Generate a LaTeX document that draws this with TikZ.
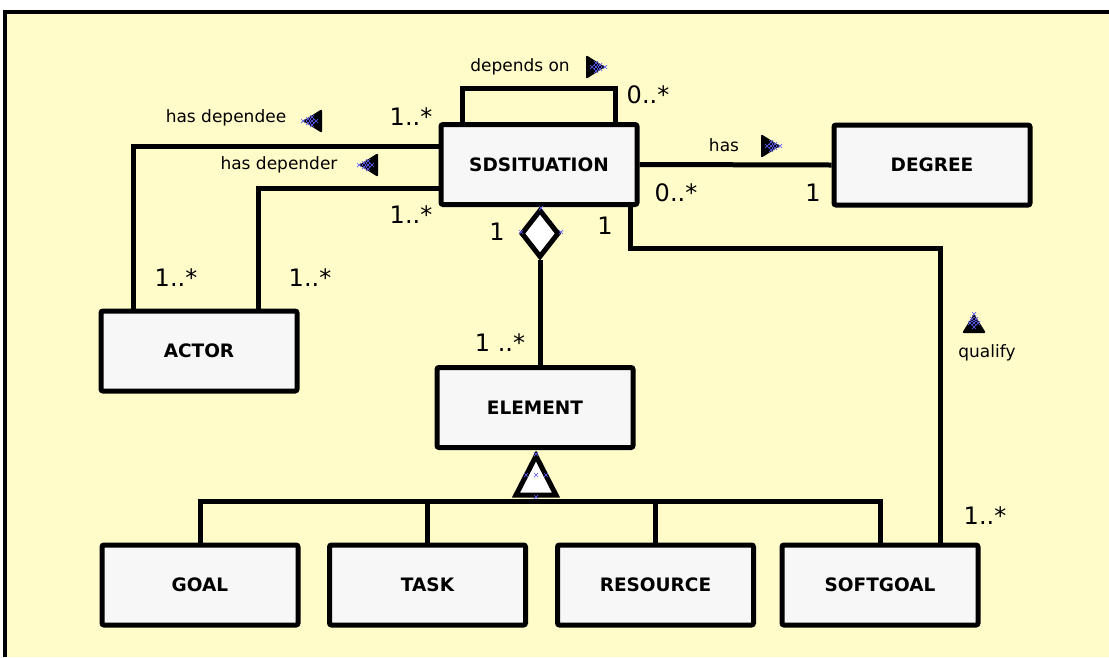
\documentclass[tikz,border=0pt]{standalone}
\usepackage{fontspec}
\setmainfont{DejaVu Sans}
\usetikzlibrary{shapes.geometric}
\definecolor{paper}{RGB}{255,252,202}
\definecolor{boxfill}{RGB}{247,247,247}
\definecolor{handle}{RGB}{95,95,250}
\tikzset{
  cls/.style={draw=black, line width=5pt, fill=boxfill, rounded corners=2pt,
    minimum width=196pt, minimum height=80pt, inner sep=0pt,
    font=\fontsize{18.5}{20}\selectfont\bfseries},
  link/.style={draw=black, line width=5pt, line join=miter},
  lbl/.style={inner sep=0pt, font=\fontsize{17}{19}\selectfont},
  mult/.style={inner sep=0pt, font=\fontsize{24}{26}\selectfont},
  xh/.pic={\draw[handle, line width=0.7pt] (-2,-2)--(2,2) (-2,2)--(2,-2);},
  flow/.pic={\fill[black, rounded corners=2pt] (-11,-12) -- (8,0) -- (-11,12) -- cycle;
    \foreach \p in {(-5,0),(-1,-4),(-1,0),(-1,4),(3,-2),(3,2),(8,0)} \pic at \p {xh};}
}
\begin{document}
\begin{tikzpicture}[x=1pt,y=-1pt]
\useasboundingbox (0,0) rectangle (1109,657);
% sheet
\fill[paper] (5,12) rectangle (1109,657);
\draw[line width=4pt] (5,657) -- (5,12) -- (1109,12);

% classes
\node[cls] (SDS) at (539,164.5) {SDSITUATION};
\node[cls] (DEG) at (932,165) {DEGREE};
\node[cls] (ACT) at (199,351) {ACTOR};
\node[cls] (ELE) at (535,407.5) {ELEMENT};
\node[cls] (GOAL) at (200,585) {GOAL};
\node[cls] (TASK) at (427.5,585) {TASK};
\node[cls] (RES) at (655.5,585) {RESOURCE};
\node[cls] (SOFT) at (880,585) {SOFTGOAL};

% routing points
\coordinate (loopL) at (462,88);
\coordinate (loopR) at (615,88);
\coordinate (deeC) at (133,146);
\coordinate (derC) at (258,188);
\coordinate (qA) at (630,248);
\coordinate (qB) at (940,248);
\coordinate (bus) at (536,501);
\coordinate (cx) at (540,0);

% depends on (self association)
\draw[link] (SDS.north -| loopL) -- (loopL) -- (loopR) -- (SDS.north -| loopR);
% has dependee / has depender
\draw[link] (SDS.west |- deeC) -- (deeC) -- (ACT.north -| deeC);
\draw[link] (SDS.west |- derC) -- (derC) -- (ACT.north -| derC);
% has
\draw[link] (SDS.east) -- (DEG.west);
% qualify
\draw[link] (SDS.south -| qA) -- (qA) -- (qB) -- (SOFT.north -| qB);

% composition
\node[diamond, draw=black, line width=5pt, fill=white, minimum width=38pt,
  minimum height=48pt, inner sep=0pt, anchor=north] (dia) at (SDS.south -| cx) {};
\draw[link] (dia.south) -- (dia.south |- ELE.north);

% generalization
\draw[link] (GOAL.north) -- (GOAL.north |- bus) -- (SOFT.north |- bus) -- (SOFT.north);
\draw[link] (TASK.north) -- (TASK.north |- bus);
\draw[link] (RES.north) -- (RES.north |- bus);
\path (ELE.south -| bus) ++(0,6) coordinate (tA) ++(20,39) coordinate (tR) ++(-40,0) coordinate (tL);
\draw[link, fill=white] (tA) -- (tR) -- (tL) -- cycle;

% selection handles
\foreach \p in {(541,208),(521,232),(561,232),(536,454),(526,475),(536,475),(546,475),(536,497)}
  \pic at \p {xh};

% association names and reading directions
\node[lbl] (tDep) at (520,67) {depends on};
\pic at (597,67) {flow};
\node[lbl] (tDee) at (226,118) {has dependee};
\pic[rotate=180] at (311,121) {flow};
\node[lbl] (tDer) at (279,165) {has depender};
\pic[rotate=180] at (367,165) {flow};
\node[lbl] (tHas) at (724,145) {has};
\pic at (772,146) {flow};
\pic[rotate=90] at (974,322) {flow};
\node[lbl] (tQual) at (987,353) {qualify};

% multiplicities
\node[mult] at (648,95) {0..*};
\node[mult] at (411,117) {1..*};
\node[mult] at (411,215) {1..*};
\node[mult] at (176,278) {1..*};
\node[mult] at (310,278) {1..*};
\node[mult] at (676,193) {0..*};
\node[mult] at (813,193) {1};
\node[mult] at (497,232) {1};
\node[mult] at (605,226) {1};
\node[mult] at (500,343) {1 ..*};
\node[mult] at (985,516) {1..*};
\end{tikzpicture}
\end{document}
